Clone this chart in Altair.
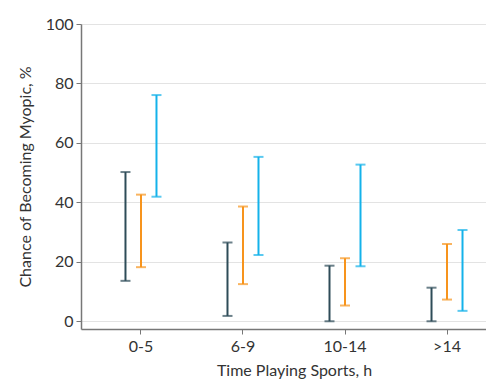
import altair as alt
import pandas as pd

categories = ["0-5", "6-9", "10-14", ">14"]
series = ["A", "B", "C"]
colors = ["#2e4c58", "#f7941d", "#14b2ea"]
low = {
    "A": [13.6, 1.8, 0.0, 0.0],
    "B": [18.2, 12.5, 5.3, 7.3],
    "C": [41.9, 22.3, 18.5, 3.5],
}
high = {
    "A": [50.2, 26.5, 18.7, 11.3],
    "B": [42.6, 38.6, 21.2, 26.0],
    "C": [76.1, 55.3, 52.7, 30.7],
}

rows = []
for s in series:
    for i, c in enumerate(categories):
        rows.append({"cat": c, "series": s, "low": low[s][i], "high": high[s][i]})
df = pd.DataFrame(rows)

FONT = "Lato"

x = alt.X("cat:N", sort=categories,
          scale=alt.Scale(range=[0, 426], paddingInner=0, paddingOuter=0.088),
          axis=alt.Axis(title="Time Playing Sports, h", labelAngle=0, labelFontSize=16,
                        titleFontSize=16, labelColor="#333", titleColor="#333",
                        domainColor="#777", tickColor="#777", tickSize=5,
                        labelPadding=4, titlePadding=8, grid=False, labelFont=FONT, titleFont=FONT,
                        titleFontWeight="normal"))
xo = alt.XOffset("series:N", sort=series,
                 scale=alt.Scale(range=[27.75, 74.25], paddingInner=0, paddingOuter=0))
col = alt.Color("series:N", sort=series, scale=alt.Scale(domain=series, range=colors), legend=None)
yscale = alt.Scale(domain=[-2.6, 100], nice=False, zero=False)
yaxis = alt.Axis(title="Chance of Becoming Myopic, %", values=[0, 20, 40, 60, 80, 100],
                 labelFontSize=16, titleFontSize=16, labelColor="#333", titleColor="#333",
                 domainColor="#777", tickColor="#777", tickSize=5, gridColor="#e3e3e3",
                 labelPadding=3,
                 labelFont=FONT, titleFont=FONT, titleFontWeight="normal", titlePadding=12)

base = alt.Chart(df)
rule = base.mark_rule(strokeWidth=2).encode(
    x=x, xOffset=xo,
    y=alt.Y("low:Q", scale=yscale, axis=yaxis), y2="high:Q", color=col)
tick_hi = base.mark_tick(size=10, thickness=2).encode(
    x=x, xOffset=xo, y=alt.Y("high:Q", scale=yscale), color=col)
tick_lo = base.mark_tick(size=10, thickness=2).encode(
    x=x, xOffset=xo, y=alt.Y("low:Q", scale=yscale), color=col)

chart = alt.layer(rule, tick_hi, tick_lo).properties(
    width=405, height=305,
    autosize=alt.AutoSizeParams(type="none"),
    padding={"left": 73, "top": 16, "right": 0, "bottom": 50},
).configure_view(stroke=None).configure_axis(domainWidth=1.5)

chart.save("out.html", embed_options={"renderer": "svg", "actions": False})
